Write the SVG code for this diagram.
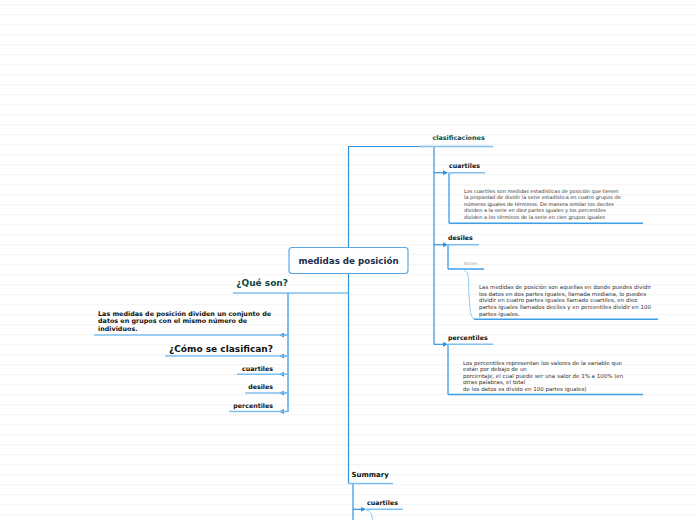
<svg xmlns="http://www.w3.org/2000/svg" width="696" height="520" viewBox="0 0 696 520">
<style>
  .conn{fill:none;stroke:#2f93e0;stroke-width:1.2}
  .ul{fill:none;stroke:#7ec0f0;stroke-width:1.6}
  .nul{fill:none;stroke:#3e9fe8;stroke-width:1.5}
  .arr{fill:none;stroke:#2f93e0;stroke-width:1.2;marker-end:url(#ah)}
  .b{font-family:"DejaVu Sans",Verdana,sans-serif;font-weight:bold;fill:#111}
  .g{fill:#0f4a3c}
  .note{font-family:"DejaVu Sans",Verdana,sans-serif;font-size:5px;fill:#333}
  .note2{font-family:"DejaVu Sans",Verdana,sans-serif;font-size:5.5px;fill:#333}
</style>
<defs>
  <pattern id="rule" width="10" height="10" patternUnits="userSpaceOnUse">
    <rect x="0" y="4" width="10" height="1.2" fill="#f5f5f5"/>
  </pattern>
  <marker id="ah" viewBox="0 0 6 6" refX="5" refY="3" markerWidth="5" markerHeight="5" orient="auto" markerUnits="userSpaceOnUse">
    <path d="M0,0 L6,3 L0,6 z" fill="#2f93e0"/>
  </marker>
</defs>
<rect width="696" height="520" fill="#fff"/>
<rect width="696" height="520" fill="url(#rule)"/>

<g id="connectors">
  <path class="conn" d="M348.5,247 V146.5 H434"/>
  <path class="conn" d="M348.5,273 V483.5"/>
  <path class="conn" d="M434,146.5 V344.5"/>
  <path class="arr" d="M434,172.7 H447"/>
  <path class="arr" d="M434,244.7 H447"/>
  <path class="arr" d="M434,344.3 H447"/>
  <path class="conn" d="M288,293 V412"/>
  <path class="arr" d="M288,335 H280"/>
  <path class="arr" d="M288,356 H280"/>
  <path class="arr" d="M288,374.3 H280"/>
  <path class="arr" d="M288,393 H280"/>
  <path class="arr" d="M288,411.5 H280"/>
  <path class="conn" d="M353,483.5 V520"/>
  <path class="arr" d="M353,509.3 H365"/>
  <path class="conn" d="M449,172.7 V223.3"/>
  <path class="conn" d="M448,244.7 V269"/>
  <path class="conn" d="M448,344.3 V394.5"/>
  <path fill="none" stroke="#8ecaf2" stroke-width="1" d="M464,270 C470,272 468,282 469,295 C470,310 470,319 476,319.3"/>
  <path fill="none" stroke="#8ecaf2" stroke-width="1" d="M367,510 C371,511 372,515 372.5,520"/>
</g>

<g id="root">
  <rect x="289" y="247.5" width="119" height="26" rx="3" fill="#fff" stroke="#5aa9e6" stroke-width="1.2"/>
  <text class="b" x="348.5" y="264" font-size="8.7" text-anchor="middle" style="fill:#1b2d4d">medidas de posición</text>
</g>

<g id="clasificaciones">
  <path class="ul" d="M420,146.5 H493"/>
  <text class="b g" x="432.5" y="139.5" font-size="6.4">clasificaciones</text>
</g>

<g id="cuartiles-r">
  <path class="ul" d="M449,172.7 H485"/>
  <text class="b" x="449" y="168.3" font-size="6.3">cuartiles</text>
</g>
<g id="cuartiles-note">
  <path class="nul" d="M449,223.3 H643"/>
  <text class="note" x="464" y="192.5">Los cuartiles son medidas estadísticas de posición que tienen</text>
  <text class="note" x="464" y="199">la propiedad de dividir la serie estadística en cuatro grupos de</text>
  <text class="note" x="464" y="205.5">números iguales de términos. De manera similar los deciles</text>
  <text class="note" x="464" y="212">dividen a la serie en diez partes iguales y los percentiles</text>
  <text class="note" x="464" y="218.5">dividen a los términos de la serie en cien grupos iguales</text>
</g>

<g id="desiles-r">
  <path class="ul" d="M448,244.7 H479"/>
  <text class="b" x="448" y="240" font-size="6.3">desiles</text>
</g>
<g id="desiles-notes-label">
  <path class="nul" d="M448,269 H484"/>
  <text x="464" y="265" font-family="DejaVu Sans,Verdana,sans-serif" font-size="4.5" fill="#aaa">Notes</text>
</g>
<g id="desiles-note">
  <path class="nul" d="M474,319.3 H658" stroke-width="1.8"/>
  <text class="note2" x="479" y="289.2">Las medidas de posición son aquellas en donde puedes dividir</text>
  <text class="note2" x="479" y="295.8">los datos en dos partes iguales, llamada mediana, lo puedes</text>
  <text class="note2" x="479" y="302.4">dividir en cuatro partes iguales llamado cuartiles, en diez</text>
  <text class="note2" x="479" y="309">partes iguales llamados deciles y en percentiles dividir en 100</text>
  <text class="note2" x="479" y="315.6">partes iguales.</text>
</g>

<g id="percentiles-r">
  <path class="ul" d="M448,344.3 H493"/>
  <text class="b" x="448" y="340.3" font-size="6.3">percentiles</text>
</g>
<g id="percentiles-note">
  <path class="nul" d="M448,394.5 H643"/>
  <text class="note2" x="463" y="365.3">Los percentiles representan los valores de la variable que</text>
  <text class="note2" x="463" y="371">están por debajo de un</text>
  <text class="note2" x="463" y="378">porcentaje, el cual puede ser una valor de 1% a 100% (en</text>
  <text class="note2" x="463" y="384.2">otras palabras, el total</text>
  <text class="note2" x="463" y="391">de los datos es divido en 100 partes iguales)</text>
</g>

<g id="que-son">
  <path class="ul" d="M233,293 H348.5"/>
  <text class="b g" x="288" y="285.5" font-size="9" text-anchor="end">¿Qué son?</text>
</g>
<g id="definicion">
  <path class="ul" d="M94,335 H288"/>
  <text class="b" x="98" y="315.5" font-size="6.4">Las medidas de posición dividen un conjunto de</text>
  <text class="b" x="98" y="323" font-size="6.4">datos en grupos con el mismo número de</text>
  <text class="b" x="98" y="330.5" font-size="6.4">individuos.</text>
</g>
<g id="como">
  <path class="ul" d="M165,356 H288"/>
  <text class="b" x="273" y="351.5" font-size="9" text-anchor="end">¿Cómo se clasifican?</text>
</g>
<g id="cuartiles-l">
  <path class="ul" d="M237,374.3 H288"/>
  <text class="b" x="273" y="370.5" font-size="6.3" text-anchor="end">cuartiles</text>
</g>
<g id="desiles-l">
  <path class="ul" d="M245,393 H288"/>
  <text class="b" x="273" y="388.5" font-size="6.3" text-anchor="end">desiles</text>
</g>
<g id="percentiles-l">
  <path class="ul" d="M229,411.5 H288"/>
  <text class="b" x="273" y="407.5" font-size="6.3" text-anchor="end">percentiles</text>
</g>

<g id="summary">
  <path class="ul" d="M348.5,483.5 H393"/>
  <text class="b" x="351.5" y="476.5" font-size="7">Summary</text>
</g>
<g id="summary-cuartiles">
  <path class="ul" d="M366,509.3 H403"/>
  <text class="b" x="367" y="505" font-size="6.3">cuartiles</text>
</g>
</svg>
